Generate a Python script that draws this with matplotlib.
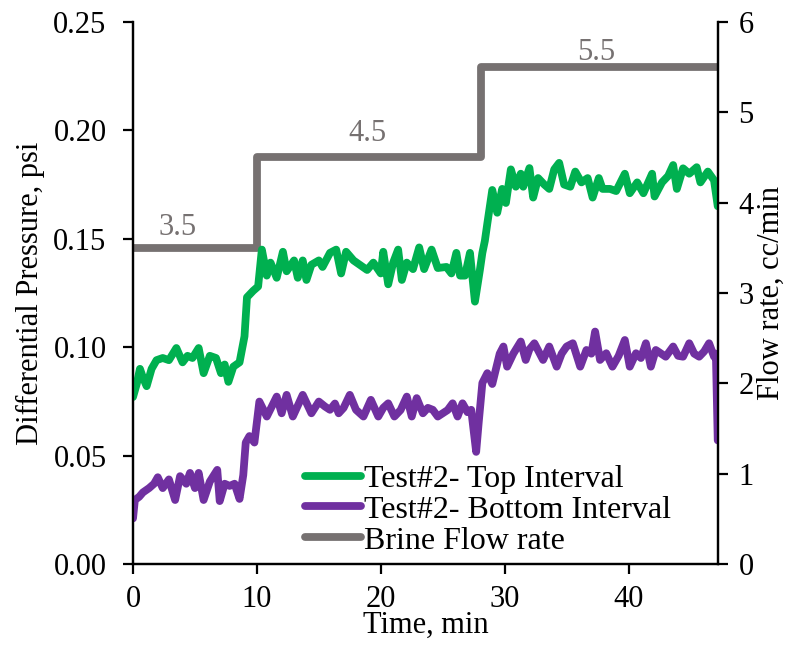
import matplotlib
matplotlib.use("Agg")
import matplotlib.pyplot as plt

# Differential pressure across the top interval (psi)
t_top = [0.0, 0.3, 0.56, 0.8, 1.1, 1.5, 1.9, 2.4, 2.9, 3.5, 4.0, 4.4, 4.8, 5.3, 5.7,
         6.2, 6.7, 7.1, 7.4, 7.7, 8.1, 8.6, 9.0, 9.2, 9.7, 10.1, 10.4, 10.8, 11.1,
         11.6, 12.1, 12.4, 13.0, 13.3, 13.7, 14.0, 14.4, 15.0, 15.3, 15.9, 16.4,
         16.8, 17.2, 17.8, 18.3, 18.9, 19.4, 20.0, 20.2, 20.6, 21.0, 21.4, 21.7,
         22.1, 22.6, 23.1, 23.5, 24.1, 24.6, 25.3, 25.7, 26.1, 26.4, 26.8, 27.2,
         27.6, 28.0, 28.2, 28.4, 28.6, 29.0, 29.4, 29.8, 30.1, 30.5, 30.9, 31.3,
         31.5, 32.0, 32.3, 32.7, 33.2, 33.6, 34.0, 34.4, 34.8, 35.3, 35.7, 36.2,
         36.7, 37.1, 37.6, 37.9, 38.5, 39.0, 39.7, 40.1, 40.7, 41.2, 41.9, 42.1,
         42.7, 43.2, 43.6, 43.9, 44.4, 44.9, 45.5, 45.8, 46.4, 46.9, 47.2]
dp_top = [0.077, 0.083, 0.090, 0.086, 0.082, 0.090, 0.094, 0.095, 0.094, 0.0996,
          0.093, 0.096, 0.095, 0.0996, 0.088, 0.096, 0.095, 0.088, 0.092, 0.084,
          0.091, 0.093, 0.105, 0.123, 0.126, 0.128, 0.145, 0.133, 0.139, 0.132,
          0.144, 0.135, 0.140, 0.132, 0.140, 0.131, 0.138, 0.140, 0.137, 0.1435,
          0.145, 0.134, 0.144, 0.140, 0.138, 0.1356, 0.139, 0.134, 0.144, 0.129,
          0.139, 0.145, 0.131, 0.139, 0.136, 0.146, 0.136, 0.145, 0.1365, 0.137,
          0.134, 0.1435, 0.133, 0.133, 0.1435, 0.121, 0.1356, 0.1435, 0.149, 0.157,
          0.1725, 0.162, 0.173, 0.1665, 0.182, 0.174, 0.180, 0.174, 0.1826, 0.169,
          0.178, 0.175, 0.173, 0.182, 0.185, 0.175, 0.174, 0.181, 0.176, 0.178,
          0.169, 0.178, 0.173, 0.173, 0.172, 0.180, 0.171, 0.176, 0.171, 0.180,
          0.1695, 0.176, 0.179, 0.184, 0.173, 0.1825, 0.180, 0.183, 0.176, 0.181,
          0.177, 0.165]

# Differential pressure across the bottom interval (psi)
t_bot = [0.0, 0.15, 0.5, 0.8, 1.3, 1.7, 2.0, 2.4, 2.9, 3.4, 3.8, 4.3, 4.6, 5.0, 5.3,
         5.7, 6.2, 6.8, 7.0, 7.4, 7.8, 8.2, 8.6, 8.9, 9.1, 9.4, 9.8, 10.2, 10.8,
         11.6, 12.0, 12.4, 12.9, 13.7, 14.4, 15.0, 15.5, 15.9, 16.3, 16.6, 17.0,
         17.5, 18.0, 18.6, 19.2, 19.8, 20.2, 20.6, 21.1, 21.6, 22.1, 22.5, 22.9,
         23.4, 23.8, 24.2, 24.6, 25.0, 25.4, 25.8, 26.2, 26.6, 27.0, 27.3, 27.7,
         27.9, 28.2, 28.6, 29.0, 29.6, 29.9, 30.2, 30.7, 31.3, 31.7, 32.0, 32.4,
         33.1, 33.6, 34.2, 34.6, 35.0, 35.5, 36.1, 36.6, 37.0, 37.3, 37.7, 38.2,
         38.7, 39.2, 39.7, 40.1, 40.6, 41.0, 41.4, 41.8, 42.2, 43.0, 43.6, 44.0,
         44.4, 44.9, 45.3, 45.7, 46.1, 46.5, 46.9, 47.05, 47.2]
dp_bot = [0.021, 0.0295, 0.031, 0.033, 0.035, 0.037, 0.040, 0.035, 0.039, 0.0295,
          0.0405, 0.037, 0.042, 0.035, 0.042, 0.0295, 0.038, 0.0434, 0.029, 0.037,
          0.036, 0.037, 0.030, 0.041, 0.056, 0.059, 0.056, 0.0749, 0.068, 0.0772,
          0.0695, 0.078, 0.068, 0.078, 0.0695, 0.0749, 0.0726, 0.0711, 0.074,
          0.0695, 0.072, 0.078, 0.0711, 0.068, 0.0757, 0.068, 0.072, 0.0741, 0.068,
          0.071, 0.0772, 0.068, 0.0765, 0.0695, 0.072, 0.0711, 0.068, 0.0695, 0.071,
          0.0741, 0.068, 0.0741, 0.070, 0.0711, 0.0517, 0.065, 0.0835, 0.088, 0.083,
          0.097, 0.1003, 0.091, 0.097, 0.1026, 0.0941, 0.099, 0.1018, 0.0941, 0.1003,
          0.0910, 0.097, 0.1003, 0.1018, 0.0910, 0.0987, 0.097, 0.1072, 0.0941,
          0.0972, 0.0910, 0.096, 0.1033, 0.0910, 0.0972, 0.095, 0.1018, 0.0910,
          0.0987, 0.0956, 0.1003, 0.096, 0.0956, 0.1018, 0.097, 0.0956, 0.098,
          0.1018, 0.0956, 0.097, 0.057]

# Brine injection rate schedule (cc/min)
t_rate = [0.0, 10.0, 28.1, 47.2]
rate = [3.5, 4.5, 5.5, 5.5]
rate_labels = ["3.5", "4.5", "5.5"]

GREEN = "#00B050"
PURPLE = "#7030A0"
GRAY = "#767171"

plt.rcParams["font.family"] = ["Liberation Serif", "DejaVu Serif"]
plt.rcParams["font.size"] = 22

fig = plt.figure(figsize=(7.87, 6.46), dpi=100)
ax = fig.add_axes([0.169, 0.127, 0.743, 0.839])
ax2 = ax.twinx()
ax.set_zorder(ax2.get_zorder() + 1)
ax.patch.set_visible(False)

lw = 5.6
ax2.plot(t_rate, rate, drawstyle="steps-post", color=GRAY, lw=lw,
         solid_joinstyle="round")

# value labels sitting just above each rate step
label_x = [3.6, 18.9, 37.4]
label_dy = [0.23, 0.27, 0.16]
for s, x, dy in zip(rate_labels, label_x, label_dy):
    ax2.text(x, float(s) + dy, s, color=GRAY, ha="center", va="center",
             fontsize=22)

ax.plot(t_top, dp_top, color=GREEN, lw=lw, solid_joinstyle="round",
        solid_capstyle="round", label="Test#2- Top Interval")
ax.plot(t_bot, dp_bot, color=PURPLE, lw=lw, solid_joinstyle="round",
        solid_capstyle="round", label="Test#2- Bottom Interval")
ax.plot([], [], color=GRAY, lw=lw, solid_capstyle="round", label="Brine Flow rate")

ax.set_xlim(0, 47.2)
ax.set_ylim(0, 0.25)
ax2.set_ylim(0, 6)
ax.set_xticks([0, 10, 20, 30, 40])
ax.set_yticks([0.0, 0.05, 0.10, 0.15, 0.20, 0.25])
ax.set_yticklabels(["0.00", "0.05", "0.10", "0.15", "0.20", "0.25"])
ax2.set_yticks([0, 1, 2, 3, 4, 5, 6])

for a in (ax, ax2):
    a.spines["top"].set_visible(False)
    for sp in a.spines.values():
        sp.set_linewidth(1.6)
    a.tick_params(direction="out", length=7, width=1.6, labelsize=22)
ax.tick_params(axis="y", pad=12)
ax.tick_params(axis="x", pad=8)
ax2.tick_params(axis="y", pad=8)

ax.set_xlabel("Time, min", labelpad=-2)
ax.set_ylabel("Differential Pressure, psi", labelpad=6)
ax2.set_ylabel("Flow rate, cc/min", labelpad=2)

ax.legend(loc="lower left", bbox_to_anchor=(0.261, -0.02), frameon=False,
          handlelength=1.75, handletextpad=0.1, labelspacing=0.05,
          borderaxespad=0.2, fontsize=23)

fig.savefig("out.png", dpi=100)
